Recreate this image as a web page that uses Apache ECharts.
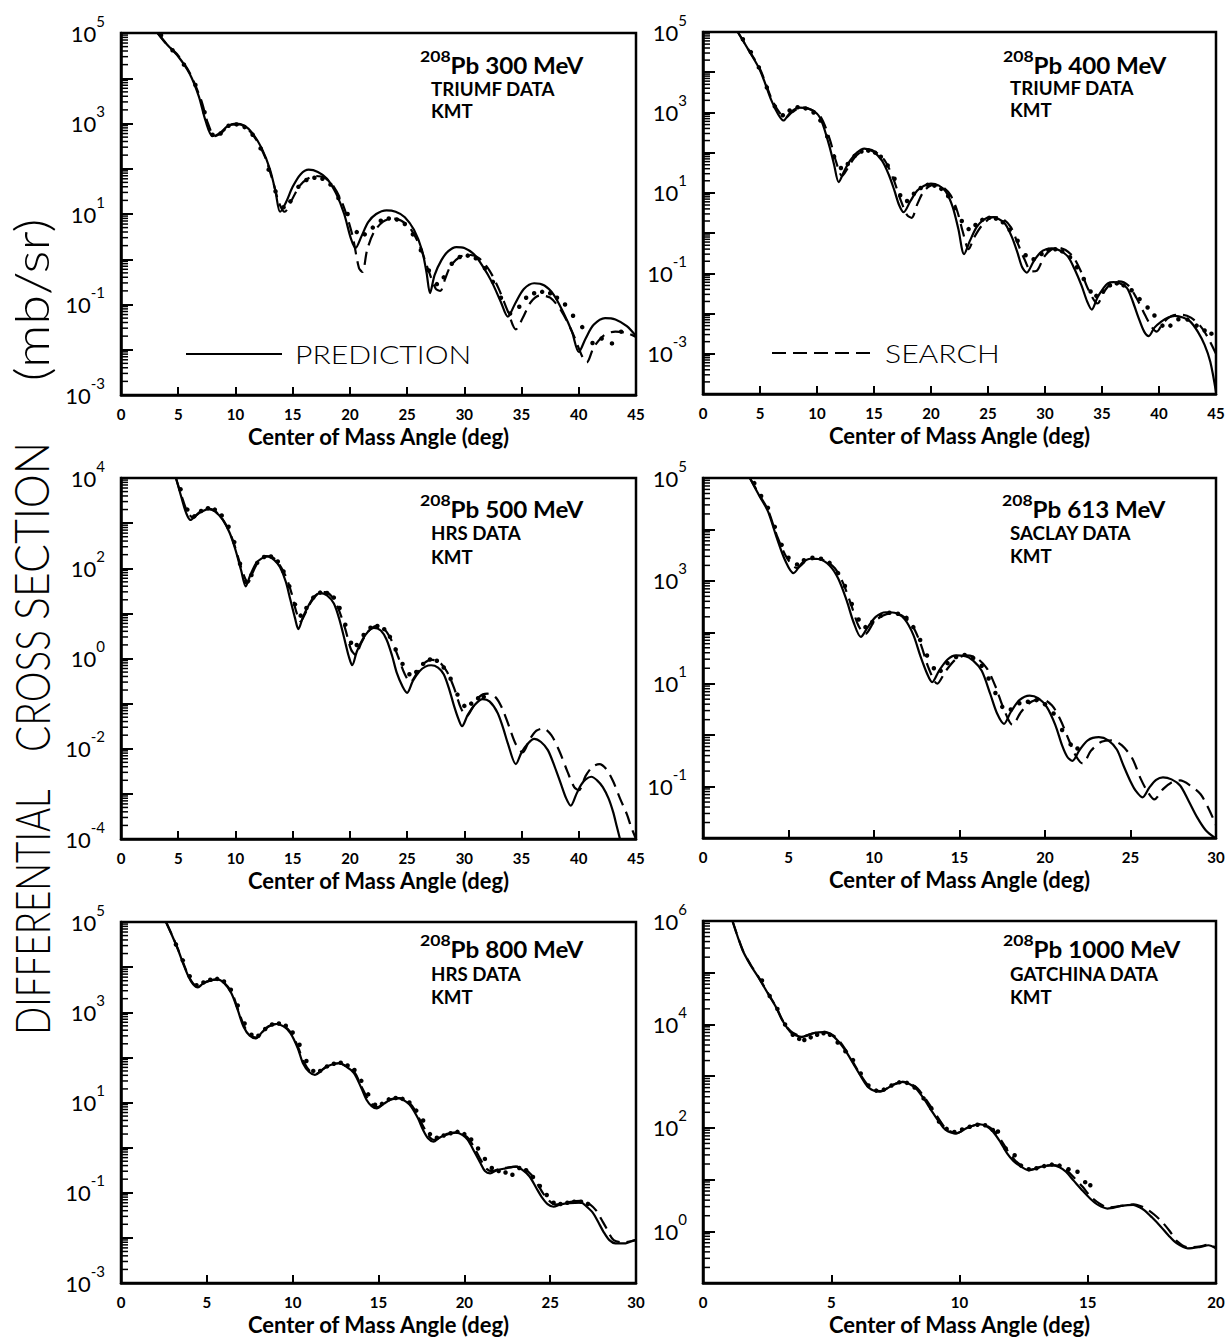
<!DOCTYPE html>
<html>
<head>
<meta charset="utf-8">
<title>208Pb proton elastic scattering — KMT predictions</title>
<script src="https://cdn.jsdelivr.net/npm/echarts@6/dist/echarts.min.js"></script>
<style>
  html, body { margin: 0; padding: 0; background: #fff; }
  #chart { width: 1228px; height: 1340px; }
</style>
</head>
<body>
<div id="chart"></div>
<script>
// Each curve is a list of [centre-of-mass angle (deg), log10 of dσ/dΩ in mb/sr].

// ---- 300 MeV (TRIUMF) ----
const pred300 = [[3.2,5.0],[4,4.75],[5,4.48],[6,4.1],[6.8,3.6],[7.4,3.05],[8.0,2.72],[8.6,2.78],[9.3,2.94],[10,3.0],[10.8,2.95],[11.5,2.78],[12.3,2.45],[13,2.0],[13.5,1.5],[13.9,1.05],[14.4,1.25],[15,1.6],[15.7,1.88],[16.4,1.98],[17.2,1.93],[18,1.78],[18.8,1.45],[19.5,1.0],[20.1,0.45],[20.5,0.25],[21,0.5],[21.6,0.82],[22.3,1.0],[23.2,1.08],[24,1.05],[24.8,0.93],[25.6,0.65],[26.3,0.2],[26.7,-0.3],[27.0,-0.75],[27.4,-0.35],[28,-0.02],[28.6,0.18],[29.3,0.27],[30,0.25],[30.8,0.12],[31.6,-0.15],[32.4,-0.5],[33.2,-0.95],[33.8,-1.27],[34.4,-1.0],[35.2,-0.66],[36.1,-0.53],[37,-0.58],[37.8,-0.78],[38.6,-1.15],[39.4,-1.6],[40,-2.05],[40.6,-1.75],[41.3,-1.45],[42.3,-1.3],[43.2,-1.33],[44.2,-1.48],[45,-1.7]];
const search300 = [[3.2,5.0],[4,4.75],[5,4.5],[6,4.12],[7,3.52],[7.6,3.0],[8.2,2.72],[8.8,2.8],[9.6,2.97],[10.3,2.98],[11,2.9],[11.8,2.65],[12.6,2.25],[13.3,1.7],[13.8,1.25],[14.3,1.05],[14.9,1.3],[15.6,1.62],[16.3,1.78],[17,1.84],[17.8,1.8],[18.6,1.6],[19.4,1.2],[20.2,0.55],[20.8,-0.2],[21.1,-0.28],[21.5,0.2],[22.1,0.6],[22.9,0.83],[23.7,0.9],[24.5,0.85],[25.3,0.67],[26.1,0.3],[26.8,-0.2],[27.5,-0.65],[27.9,-0.7],[28.3,-0.45],[28.8,-0.15],[29.6,0.05],[30.4,0.1],[31.3,0.02],[32.2,-0.25],[33,-0.65],[33.8,-1.15],[34.5,-1.55],[35.1,-1.3],[35.8,-0.95],[36.6,-0.8],[37.5,-0.85],[38.5,-1.15],[39.5,-1.65],[40.3,-2.15],[40.7,-2.28],[41.3,-1.95],[42.2,-1.68],[43.2,-1.6],[44.2,-1.63],[45,-1.72]];
const data300 = [[3.5,4.95],[4.5,4.62],[5.5,4.3],[6.5,3.85],[7.3,3.25],[8,2.75],[8.7,2.78],[9.4,2.95],[10.1,2.98],[10.8,2.92],[11.5,2.75],[12.2,2.45],[12.9,1.98],[13.5,1.5],[14.2,1.15],[14.8,1.28],[15.5,1.6],[16.2,1.75],[16.9,1.8],[17.6,1.78],[18.3,1.65],[19,1.35],[19.8,1.0],[20.6,0.6],[21.3,0.55],[22,0.7],[22.7,0.85],[23.4,0.9],[24.1,0.88],[24.8,0.78],[25.5,0.55],[26.2,0.2],[26.9,-0.25],[27.6,-0.55],[28.2,-0.4],[28.9,-0.1],[29.6,0.05],[30.3,0.08],[31,0.02],[31.8,-0.2],[32.5,-0.5],[33.2,-0.85],[34,-1.2],[34.8,-1.05],[35.4,-0.85],[36.1,-0.75],[36.8,-0.72],[37.5,-0.75],[38.1,-0.85],[38.8,-1.0],[39.5,-1.25],[40.3,-1.5],[41.2,-1.85],[42,-1.75],[42.9,-1.86],[43.7,-1.6]];

// ---- 400 MeV (TRIUMF) ----
const pred400 = [[3.05,5.0],[4,4.55],[5,4.05],[6,3.3],[6.6,2.95],[7.05,2.8],[7.6,2.98],[8.4,3.12],[9.2,3.1],[10.2,2.9],[11,2.25],[11.5,1.7],[11.9,1.27],[12.4,1.55],[12.9,1.8],[13.5,2.0],[14.15,2.1],[14.9,2.03],[15.7,1.8],[16.3,1.45],[16.8,1.05],[17.2,0.7],[17.6,0.52],[18.2,0.8],[18.8,1.06],[19.4,1.18],[20,1.23],[20.7,1.18],[21.3,1.03],[21.9,0.65],[22.4,0.1],[22.9,-0.52],[23.4,-0.2],[24,0.15],[24.6,0.33],[25.2,0.4],[25.9,0.36],[26.5,0.23],[27.1,-0.1],[27.6,-0.5],[28.0,-0.85],[28.4,-0.98],[29,-0.7],[29.6,-0.48],[30.1,-0.4],[30.6,-0.38],[31.3,-0.43],[32,-0.58],[32.6,-0.9],[33.2,-1.3],[33.7,-1.7],[34.1,-1.9],[34.6,-1.6],[35.1,-1.38],[35.5,-1.25],[36,-1.22],[36.6,-1.25],[37.2,-1.37],[37.7,-1.7],[38.2,-2.1],[38.7,-2.45],[39.1,-2.56],[39.6,-2.35],[40.2,-2.2],[40.8,-2.1],[41.4,-2.06],[42.1,-2.1],[42.75,-2.2],[43.4,-2.45],[44,-2.78],[44.5,-3.2],[45,-3.95]];
const search400 = [[3.05,5.0],[4,4.56],[5,4.08],[6,3.35],[6.7,3.0],[7.25,2.87],[7.8,3.0],[8.6,3.12],[9.4,3.08],[10.3,2.9],[11.1,2.35],[11.7,1.75],[12.2,1.42],[12.7,1.62],[13.3,1.88],[14,2.05],[14.5,2.08],[15.2,2.0],[16,1.78],[16.7,1.35],[17.3,0.85],[17.9,0.45],[18.3,0.38],[18.8,0.72],[19.4,1.05],[20.2,1.2],[21,1.15],[21.7,0.95],[22.3,0.55],[22.8,0.02],[23.3,-0.4],[23.8,-0.1],[24.5,0.2],[25.5,0.4],[26.3,0.35],[27,0.15],[27.6,-0.25],[28.2,-0.65],[28.8,-0.95],[29.3,-0.93],[29.9,-0.6],[30.5,-0.42],[31.1,-0.36],[31.8,-0.42],[32.5,-0.6],[33.2,-0.98],[33.8,-1.4],[34.6,-1.75],[35.2,-1.45],[35.8,-1.25],[36.5,-1.2],[37.3,-1.3],[38,-1.6],[38.8,-2.05],[39.4,-2.35],[39.8,-2.45],[40.4,-2.22],[41.2,-2.05],[42,-2.03],[42.8,-2.1],[43.6,-2.3],[44.3,-2.6],[45,-3.0]];
const data400 = [[3.5,4.82],[4.2,4.5],[4.9,4.12],[5.6,3.62],[6.3,3.15],[7,2.93],[7.6,3.05],[8.3,3.13],[9,3.1],[9.7,3.0],[10.3,2.8],[10.9,2.4],[11.5,1.9],[12.1,1.62],[12.7,1.72],[13.3,1.92],[13.9,2.03],[14.5,2.05],[15.1,2.0],[15.6,1.9],[16.2,1.68],[16.8,1.35],[17.3,0.94],[17.9,0.8],[18.5,0.98],[19.1,1.12],[19.7,1.2],[20.3,1.18],[20.9,1.1],[21.5,0.92],[22.1,0.62],[22.7,0.3],[23.3,0.1],[23.9,0.2],[24.5,0.33],[25.1,0.38],[25.7,0.36],[26.3,0.27],[26.9,0.08],[27.6,-0.19],[28.3,-0.55],[29,-0.65],[29.7,-0.52],[30.3,-0.42],[30.9,-0.4],[31.5,-0.45],[32.2,-0.6],[32.8,-0.85],[33.4,-1.14],[34,-1.45],[34.5,-1.56],[35.1,-1.45],[35.7,-1.3],[36.3,-1.25],[36.9,-1.3],[37.6,-1.42],[38.3,-1.64],[39,-1.85],[39.6,-2.05],[40.3,-2.3],[41,-2.3],[41.7,-2.14],[42.5,-2.15],[43.3,-2.3],[44,-2.42],[44.6,-2.5]];

// ---- 500 MeV (HRS) ----
const pred500 = [[4.8,4.0],[5.3,3.55],[5.7,3.22],[6.07,3.07],[6.6,3.18],[7.1,3.26],[7.6,3.31],[8.2,3.26],[8.9,3.07],[9.5,2.78],[10,2.41],[10.5,1.95],[10.9,1.6],[11.3,1.85],[11.8,2.11],[12.3,2.22],[12.8,2.26],[13.4,2.18],[13.9,2.02],[14.4,1.7],[14.8,1.3],[15.2,0.9],[15.5,0.65],[15.9,0.92],[16.4,1.18],[16.9,1.38],[17.4,1.45],[18,1.4],[18.6,1.22],[19.1,0.85],[19.6,0.35],[19.9,0.05],[20.2,-0.15],[20.6,0.15],[21.1,0.42],[21.6,0.6],[22.1,0.68],[22.7,0.62],[23.2,0.42],[23.7,0.05],[24.1,-0.32],[24.6,-0.62],[25,-0.76],[25.5,-0.5],[26.1,-0.28],[26.6,-0.18],[27.1,-0.15],[27.7,-0.2],[28.2,-0.35],[28.7,-0.7],[29.1,-1.05],[29.5,-1.35],[29.8,-1.5],[30.3,-1.25],[30.9,-1.03],[31.6,-0.9],[32.2,-0.95],[32.9,-1.2],[33.4,-1.55],[33.8,-1.88],[34.5,-2.34],[35,-2.08],[35.5,-1.9],[36.1,-1.78],[36.7,-1.85],[37.3,-2.03],[37.9,-2.4],[38.4,-2.75],[38.9,-3.1],[39.3,-3.26],[39.8,-3.0],[40.2,-2.8],[40.6,-2.68],[41.1,-2.62],[41.6,-2.7],[42.1,-2.85],[42.6,-3.1],[43.0,-3.4],[43.3,-3.7],[43.6,-4.0]];
const search500 = [[4.8,4.0],[5.3,3.6],[5.8,3.25],[6.3,3.12],[6.8,3.23],[7.4,3.32],[8,3.3],[8.6,3.18],[9.2,2.95],[9.8,2.6],[10.4,2.1],[10.8,1.8],[11.1,1.68],[11.5,1.9],[12,2.15],[12.6,2.27],[13.2,2.25],[13.8,2.1],[14.4,1.82],[14.9,1.45],[15.3,1.05],[15.7,0.82],[16.1,1.0],[16.6,1.25],[17.2,1.43],[17.8,1.47],[18.4,1.38],[19,1.1],[19.6,0.65],[20.1,0.2],[20.5,0.08],[21,0.35],[21.6,0.6],[22.3,0.72],[23,0.65],[23.6,0.42],[24.2,0.05],[24.8,-0.35],[25.3,-0.52],[25.8,-0.35],[26.5,-0.1],[27.2,-0.03],[27.9,-0.1],[28.5,-0.3],[29.1,-0.65],[29.7,-1.1],[30.2,-1.28],[30.7,-1.1],[31.3,-0.85],[32,-0.78],[32.7,-0.85],[33.3,-1.1],[33.9,-1.5],[34.5,-1.9],[35.1,-2.08],[35.7,-1.8],[36.3,-1.6],[36.9,-1.55],[37.6,-1.7],[38.3,-2.05],[39,-2.5],[39.6,-2.85],[40,-2.92],[40.6,-2.6],[41.2,-2.4],[41.8,-2.34],[42.4,-2.45],[43,-2.72],[43.6,-3.1],[44.2,-3.45],[44.6,-3.75],[45,-4.0]];
const data500 = [[5.2,3.75],[5.8,3.3],[6.4,3.15],[7,3.27],[7.6,3.33],[8.2,3.3],[8.8,3.17],[9.4,2.92],[9.9,2.58],[10.4,2.1],[10.9,1.7],[11.4,1.85],[11.9,2.12],[12.5,2.25],[13.1,2.26],[13.7,2.15],[14.2,1.93],[14.7,1.6],[15.2,1.2],[15.7,0.95],[16.2,1.12],[16.8,1.35],[17.4,1.46],[18,1.45],[18.6,1.35],[19.1,1.12],[19.6,0.75],[20.1,0.35],[20.6,0.3],[21.2,0.52],[21.8,0.68],[22.4,0.72],[23,0.65],[23.5,0.48],[24,0.2],[24.6,-0.12],[25.2,-0.35],[25.8,-0.3],[26.4,-0.12],[27,-0.02],[27.6,-0.05],[28.2,-0.2],[28.8,-0.45],[29.4,-0.8],[30,-1.05],[30.6,-1.0],[31.2,-0.88],[31.7,-0.85]];

// ---- 613 MeV (Saclay) ----
const pred613 = [[2.74,5.0],[3.3,4.65],[3.8,4.35],[4.3,3.85],[4.8,3.4],[5.29,3.15],[5.8,3.35],[6.3,3.43],[6.8,3.42],[7.4,3.3],[7.9,3.05],[8.4,2.62],[8.8,2.2],[9.23,1.91],[9.6,2.08],[10.1,2.3],[10.7,2.39],[11.3,2.37],[11.8,2.25],[12.3,1.95],[12.7,1.55],[13.1,1.2],[13.4,1.03],[13.8,1.25],[14.3,1.47],[14.8,1.55],[15.3,1.54],[15.8,1.45],[16.3,1.25],[16.8,0.8],[17.2,0.42],[17.6,0.22],[18,0.45],[18.5,0.68],[19.1,0.77],[19.6,0.72],[20.1,0.55],[20.6,0.2],[21,-0.2],[21.3,-0.42],[21.6,-0.5],[22,-0.3],[22.5,-0.1],[23.15,-0.04],[23.7,-0.1],[24.2,-0.28],[24.6,-0.6],[25,-0.9],[25.3,-1.08],[25.7,-1.21],[26.1,-1.02],[26.5,-0.87],[26.9,-0.82],[27.4,-0.86],[27.9,-0.98],[28.4,-1.28],[28.9,-1.6],[29.4,-1.85],[29.95,-2.0]];
const search613 = [[2.74,5.0],[3.3,4.67],[3.8,4.38],[4.3,3.9],[4.9,3.45],[5.5,3.25],[6,3.38],[6.6,3.43],[7.1,3.4],[7.7,3.25],[8.2,2.95],[8.7,2.5],[9.1,2.12],[9.5,1.97],[10,2.2],[10.5,2.32],[11,2.37],[11.6,2.33],[12.2,2.15],[12.7,1.8],[13.2,1.3],[13.7,1.0],[14.2,1.25],[14.8,1.48],[15.4,1.55],[16,1.5],[16.6,1.3],[17.1,0.95],[17.6,0.5],[18.1,0.2],[18.6,0.45],[19.2,0.65],[19.8,0.7],[20.4,0.58],[20.9,0.3],[21.4,-0.1],[21.8,-0.4],[22.2,-0.55],[22.7,-0.3],[23.3,-0.13],[23.9,-0.1],[24.5,-0.2],[25.1,-0.45],[25.6,-0.85],[26,-1.1],[26.4,-1.25],[26.9,-1.05],[27.4,-0.92],[27.9,-0.88],[28.5,-0.98],[29.1,-1.15],[29.6,-1.45],[30,-1.75]];
const data613 = [[3.0,4.9],[3.4,4.65],[3.8,4.42],[4.2,4.05],[4.6,3.7],[5,3.45],[5.5,3.32],[5.9,3.4],[6.4,3.45],[6.9,3.43],[7.4,3.35],[7.9,3.15],[8.3,2.9],[8.7,2.55],[9.1,2.25],[9.5,2.1],[9.9,2.2],[10.4,2.32],[10.9,2.38],[11.4,2.36],[11.9,2.28],[12.3,2.1],[12.7,1.85],[13.1,1.55],[13.5,1.3],[13.9,1.25],[14.3,1.4],[14.8,1.52],[15.3,1.56],[15.8,1.5],[16.3,1.35],[16.7,1.1],[17.1,0.82],[17.5,0.55],[18,0.5],[18.5,0.62],[19,0.65],[19.5,0.68],[20,0.6],[20.5,0.42],[21,0.1],[21.5,-0.18],[21.9,-0.26]];

// ---- 800 MeV (HRS) ----
const pred800 = [[2.62,5.0],[3.0,4.68],[3.33,4.38],[3.65,4.05],[3.93,3.79],[4.2,3.62],[4.48,3.55],[4.75,3.63],[5.0,3.68],[5.6,3.73],[6.0,3.65],[6.43,3.42],[6.8,3.05],[7.14,2.68],[7.5,2.48],[7.86,2.42],[8.2,2.55],[8.57,2.68],[9.05,2.74],[9.5,2.68],[9.88,2.53],[10.3,2.2],[10.6,1.87],[10.95,1.68],[11.3,1.61],[11.65,1.7],[12.0,1.8],[12.7,1.87],[13.1,1.8],[13.57,1.65],[14.0,1.32],[14.3,1.06],[14.6,0.92],[14.9,0.87],[15.3,0.97],[15.7,1.06],[16.2,1.09],[16.6,1.02],[16.9,0.91],[17.3,0.65],[17.6,0.39],[17.9,0.2],[18.2,0.13],[18.55,0.22],[18.9,0.28],[19.5,0.33],[19.9,0.28],[20.2,0.17],[20.6,-0.1],[20.95,-0.35],[21.2,-0.52],[21.5,-0.57],[21.9,-0.5],[22.4,-0.46],[23,-0.42],[23.4,-0.5],[23.8,-0.64],[24.2,-0.9],[24.5,-1.09],[24.85,-1.25],[25.2,-1.31],[25.6,-1.26],[26.1,-1.23],[26.8,-1.22],[27.1,-1.3],[27.5,-1.45],[27.8,-1.65],[28.1,-1.86],[28.45,-2.05],[28.8,-2.12],[29.4,-2.12],[29.7,-2.08],[30,-2.05]];
const search800 = [[2.62,5.0],[3.0,4.69],[3.33,4.39],[3.65,4.07],[3.93,3.81],[4.2,3.64],[4.5,3.57],[4.8,3.64],[5.1,3.69],[5.6,3.73],[6.0,3.66],[6.45,3.44],[6.8,3.08],[7.15,2.72],[7.5,2.5],[7.9,2.44],[8.25,2.56],[8.6,2.69],[9.05,2.74],[9.5,2.69],[9.9,2.55],[10.3,2.24],[10.65,1.9],[11,1.7],[11.35,1.63],[11.7,1.72],[12.05,1.81],[12.7,1.87],[13.1,1.81],[13.6,1.67],[14,1.36],[14.35,1.1],[14.65,0.95],[14.95,0.9],[15.3,0.98],[15.7,1.07],[16.2,1.1],[16.6,1.04],[16.95,0.93],[17.3,0.7],[17.65,0.44],[17.95,0.25],[18.25,0.17],[18.6,0.24],[18.95,0.3],[19.5,0.34],[19.9,0.3],[20.25,0.2],[20.65,-0.05],[21,-0.3],[21.3,-0.47],[21.6,-0.52],[22,-0.48],[22.5,-0.44],[23.1,-0.42],[23.5,-0.48],[23.9,-0.6],[24.3,-0.83],[24.6,-1.02],[24.95,-1.18],[25.3,-1.26],[25.7,-1.24],[26.2,-1.2],[26.9,-1.18],[27.3,-1.25],[27.7,-1.4],[28.0,-1.6],[28.3,-1.8],[28.7,-2.05],[29.3,-2.1],[30,-2.04]];
const data800 = [[3.2,4.5],[3.6,4.15],[4.0,3.8],[4.4,3.6],[4.8,3.66],[5.2,3.72],[5.6,3.74],[6,3.68],[6.4,3.5],[6.8,3.15],[7.2,2.75],[7.6,2.5],[8,2.48],[8.4,2.63],[8.8,2.73],[9.2,2.75],[9.6,2.7],[10,2.55],[10.4,2.28],[10.8,1.92],[11.2,1.7],[11.6,1.7],[12,1.8],[12.4,1.86],[12.8,1.88],[13.2,1.82],[13.6,1.72],[14,1.48],[14.4,1.18],[14.8,0.95],[15.2,0.97],[15.6,1.07],[16,1.1],[16.4,1.08],[16.8,1.0],[17.2,0.82],[17.6,0.6],[18,0.3],[18.4,0.22],[18.8,0.27],[19.2,0.32],[19.6,0.35],[20,0.3],[20.4,0.18],[20.8,-0.02],[21.2,-0.25],[21.6,-0.45],[22,-0.52],[22.4,-0.55],[22.8,-0.6],[23.2,-0.45],[23.6,-0.5],[24,-0.65],[24.4,-0.85],[24.8,-1.05],[25.2,-1.22],[25.6,-1.25],[26,-1.22],[26.4,-1.2],[26.8,-1.2],[27.2,-1.25]];

// ---- 1000 MeV (Gatchina) ----
const pred1000 = [[1.15,6.0],[1.54,5.44],[1.85,5.15],[2.15,4.92],[2.6,4.54],[2.85,4.33],[3.08,4.09],[3.3,3.92],[3.46,3.83],[3.85,3.76],[4.3,3.83],[4.7,3.85],[5.0,3.8],[5.23,3.7],[5.55,3.5],[5.85,3.25],[6.15,3.0],[6.46,2.78],[6.9,2.7],[7.4,2.83],[7.77,2.89],[8.05,2.85],[8.3,2.76],[8.6,2.57],[8.9,2.34],[9.2,2.12],[9.46,1.96],[9.85,1.89],[10.3,2.0],[10.77,2.07],[11.05,2.03],[11.3,1.93],[11.6,1.72],[11.85,1.51],[12.1,1.36],[12.4,1.25],[12.7,1.18],[13.2,1.25],[13.6,1.28],[13.9,1.24],[14.15,1.15],[14.45,0.98],[14.77,0.8],[15.1,0.63],[15.4,0.51],[15.77,0.44],[16.3,0.49],[16.77,0.51],[17.0,0.47],[17.2,0.41],[17.5,0.27],[17.85,0.09],[18.15,-0.08],[18.46,-0.23],[18.9,-0.33],[19.4,-0.3],[19.7,-0.27],[20,-0.33]];
const search1000 = [[1.15,6.0],[1.54,5.45],[1.85,5.16],[2.15,4.93],[2.6,4.55],[2.85,4.34],[3.08,4.1],[3.3,3.93],[3.5,3.84],[3.9,3.77],[4.3,3.83],[4.7,3.86],[5.0,3.81],[5.25,3.72],[5.55,3.52],[5.85,3.27],[6.15,3.02],[6.5,2.79],[6.9,2.71],[7.4,2.83],[7.8,2.89],[8.1,2.85],[8.35,2.77],[8.65,2.58],[8.95,2.36],[9.25,2.13],[9.5,1.97],[9.9,1.9],[10.3,2.0],[10.8,2.07],[11.1,2.03],[11.35,1.94],[11.65,1.74],[11.9,1.54],[12.15,1.38],[12.45,1.26],[12.75,1.19],[13.2,1.25],[13.6,1.28],[13.95,1.25],[14.2,1.17],[14.5,1.02],[14.8,0.86],[15.1,0.68],[15.45,0.54],[15.8,0.46],[16.3,0.49],[16.8,0.52],[17.05,0.49],[17.3,0.43],[17.6,0.32],[17.9,0.18],[18.2,0.0],[18.5,-0.2],[18.9,-0.31],[19.4,-0.29],[19.7,-0.26],[20,-0.32]];
const data1000 = [[2.3,4.85],[2.6,4.55],[2.9,4.3],[3.2,4.0],[3.5,3.8],[3.75,3.72],[3.95,3.7],[4.2,3.75],[4.45,3.8],[4.7,3.83],[4.95,3.8],[5.25,3.65],[5.55,3.48],[5.85,3.31],[6.15,3.05],[6.45,2.82],[6.75,2.72],[7.05,2.74],[7.35,2.82],[7.65,2.88],[7.95,2.87],[8.25,2.78],[8.6,2.57],[8.9,2.38],[9.2,2.12],[9.5,1.98],[9.8,1.92],[10.1,1.97],[10.4,2.02],[10.7,2.06],[11.0,2.05],[11.3,1.96],[11.5,1.93],[11.8,1.6],[12.15,1.47],[12.4,1.27],[12.7,1.2],[13.0,1.22],[13.3,1.26],[13.6,1.29],[13.9,1.27],[14.25,1.2],[14.6,1.15],[14.9,0.95],[15.1,0.89]];

// Decade exponents that carry a "10^n" label on each y axis
const yLabels300 = [5, 3, 1, -1, -3];
const yLabels400 = [5, 3, 1, -1, -3];
const yLabels500 = [4, 2, 0, -2, -4];
const yLabels613 = [5, 3, 1, -1];
const yLabels800 = [5, 3, 1, -1, -3];
const yLabels1000 = [6, 4, 2, 0];

// Panel annotations
const energies = ['300 MeV', '400 MeV', '500 MeV', '613 MeV', '800 MeV', '1000 MeV'];
const datasets = ['TRIUMF DATA', 'TRIUMF DATA', 'HRS DATA', 'SACLAY DATA', 'HRS DATA', 'GATCHINA DATA'];
const xTitle = 'Center of Mass Angle (deg)';

// Layout of the six panels
const panels = [
  { grid: { left: 121, top: 33,  width: 515, height: 362 }, xMax: 45, yExp: [-3, 5], yLabels: yLabels300,  pred: pred300,  search: search300,  data: data300,  tx: [420, 431],  ty: [65, 89, 111] },
  { grid: { left: 703, top: 32,  width: 513, height: 362 }, xMax: 45, yExp: [-4, 5], yLabels: yLabels400,  pred: pred400,  search: search400,  data: data400,  tx: [1003, 1010], ty: [65, 88, 110] },
  { grid: { left: 121, top: 478, width: 515, height: 361 }, xMax: 45, yExp: [-4, 4], yLabels: yLabels500,  pred: pred500,  search: search500,  data: data500,  tx: [420, 431],  ty: [509, 533, 557] },
  { grid: { left: 703, top: 478, width: 513, height: 360 }, xMax: 30, yExp: [-2, 5], yLabels: yLabels613,  pred: pred613,  search: search613,  data: data613,  tx: [1002, 1010], ty: [509, 533, 556] },
  { grid: { left: 121, top: 922, width: 515, height: 361 }, xMax: 30, yExp: [-3, 5], yLabels: yLabels800,  pred: pred800,  search: search800,  data: data800,  tx: [420, 431],  ty: [949, 974, 997] },
  { grid: { left: 703, top: 921, width: 513, height: 362 }, xMax: 20, yExp: [-1, 6], yLabels: yLabels1000, pred: pred1000, search: search1000, data: data1000, tx: [1003, 1010], ty: [949, 974, 997] }
];

const INK = '#000';
const FONT = 'Lato, "Open Sans", "DejaVu Sans", sans-serif';
const toPts = arr => arr.map(([a, l]) => [a, Math.pow(10, l)]);

const grids = [], xAxes = [], yAxes = [], series = [], graphics = [];

panels.forEach((p, i) => {
  grids.push(Object.assign({ show: true, borderColor: INK, borderWidth: 2.5, backgroundColor: 'transparent' }, p.grid));

  xAxes.push({
    gridIndex: i, type: 'value', min: 0, max: p.xMax, interval: 5,
    axisLine: { show: true, lineStyle: { color: INK, width: 2.5 } },
    axisTick: { show: true, inside: true, length: 8, lineStyle: { color: INK, width: 2 } },
    axisLabel: { color: INK, fontFamily: FONT, fontWeight: 'bold', fontSize: 15, margin: 11, showMinLabel: true, showMaxLabel: true },
    splitLine: { show: false },
    name: xTitle, nameLocation: 'middle', nameGap: 30,
    nameTextStyle: { color: INK, fontFamily: FONT, fontWeight: 'bold', fontSize: 22 }
  });

  const labelled = p.yLabels;
  yAxes.push({
    gridIndex: i, type: 'log', logBase: 10,
    min: Math.pow(10, p.yExp[0]), max: Math.pow(10, p.yExp[1]),
    axisLine: { show: true, lineStyle: { color: INK, width: 2.5 } },
    axisTick: { show: true, inside: true, length: 12, lineStyle: { color: INK, width: 2 } },
    splitLine: { show: false },
    axisLabel: {
      margin: 16,
      formatter: v => {
        const e = Math.round(Math.log10(v));
        return labelled.indexOf(e) >= 0 ? '{b|10}{s|' + e + '}' : '';
      },
      rich: {
        b: { fontFamily: FONT, fontSize: 22, lineHeight: 40, verticalAlign: 'middle', color: INK },
        s: { fontFamily: FONT, fontSize: 15, verticalAlign: 'top', color: INK }
      }
    }
  });

  // minor log ticks 2..9 inside each decade
  const minor = [];
  for (let e = p.yExp[0]; e < p.yExp[1]; e++) {
    for (let k = 2; k <= 9; k++) minor.push([0, k * Math.pow(10, e)]);
  }
  series.push({
    type: 'custom', xAxisIndex: i, yAxisIndex: i, silent: true, z: 4,
    data: minor,
    renderItem: (params, api) => {
      const pt = api.coord([0, api.value(1)]);
      return { type: 'line', shape: { x1: pt[0], y1: pt[1], x2: pt[0] + 7, y2: pt[1] },
               style: { stroke: INK, lineWidth: 1.5 } };
    }
  });

  series.push({
    name: 'PREDICTION', type: 'line', xAxisIndex: i, yAxisIndex: i,
    data: toPts(p.pred), showSymbol: false, symbol: 'none', smooth: 0.3,
    lineStyle: { color: INK, width: 2.2 }, z: 3
  });
  series.push({
    name: 'SEARCH', type: 'line', xAxisIndex: i, yAxisIndex: i,
    data: toPts(p.search), showSymbol: false, symbol: 'none', smooth: 0.3,
    lineStyle: { color: INK, width: 2.2, type: [13, 7] }, z: 3
  });
  series.push({
    name: 'DATA', type: 'scatter', xAxisIndex: i, yAxisIndex: i,
    data: toPts(p.data), symbol: 'circle', symbolSize: 4.5,
    itemStyle: { color: INK, opacity: 1 }, z: 3
  });

  // target / energy, data source and model annotation
  graphics.push({
    type: 'text', x: p.tx[0], y: p.ty[0], scaleX: 1.1,
    style: {
      text: '{s|208}{b|Pb ' + energies[i] + '}',
      align: 'left', verticalAlign: 'middle', textAlign: 'left', textVerticalAlign: 'middle',
      fill: INK,
      rich: {
        s: { fontFamily: FONT, fontSize: 16, fontWeight: 'bold', verticalAlign: 'top', fill: INK },
        b: { fontFamily: FONT, fontSize: 22, fontWeight: 'bold', lineHeight: 34, verticalAlign: 'middle', fill: INK }
      }
    }
  });
  [datasets[i], 'KMT'].forEach((t, j) => {
    graphics.push({
      type: 'text', x: p.tx[1], y: p.ty[j + 1], scaleX: 1.04,
      style: { text: t, fill: INK, font: 'bold 18px ' + FONT,
               align: 'left', verticalAlign: 'middle', textAlign: 'left', textVerticalAlign: 'middle' }
    });
  });
});

// legend keys drawn inside the two upper panels
graphics.push(
  { type: 'line', shape: { x1: 186, y1: 354, x2: 282, y2: 354 }, style: { stroke: INK, lineWidth: 2.2 } },
  { type: 'text', x: 295, y: 354, scaleX: 1.16,
    style: { text: 'PREDICTION', fill: INK, font: '300 26px ' + FONT, align: 'left', verticalAlign: 'middle', textAlign: 'left', textVerticalAlign: 'middle' } },
  { type: 'line', shape: { x1: 772, y1: 353, x2: 872, y2: 353 }, style: { stroke: INK, lineWidth: 2.2, lineDash: [14, 7] } },
  { type: 'text', x: 885, y: 353, scaleX: 1.16,
    style: { text: 'SEARCH', fill: INK, font: '300 26px ' + FONT, align: 'left', verticalAlign: 'middle', textAlign: 'left', textVerticalAlign: 'middle' } }
);

// shared y-axis title, reading bottom to top: [word, centre y, stretch along the text]
const yTitleWords = [['DIFFERENTIAL', 912, 0.92], ['CROSS', 691, 0.97], ['SECTION', 531, 1.07], ['(mb/sr)', 300, 1.35]];
yTitleWords.forEach(([w, cy, sx]) => {
  graphics.push({
    type: 'text', x: 31, y: cy, rotation: Math.PI / 2, scaleX: sx, scaleY: 1.2,
    style: { text: w, fill: INK, font: '300 40px ' + FONT,
             align: 'center', verticalAlign: 'middle', textAlign: 'center', textVerticalAlign: 'middle' }
  });
});

const chart = echarts.init(document.getElementById('chart'), null, { renderer: 'svg' });
chart.setOption({
  animation: false,
  backgroundColor: '#fff',
  grid: grids,
  xAxis: xAxes,
  yAxis: yAxes,
  series: series,
  graphic: { elements: graphics }
});
</script>
</body>
</html>
